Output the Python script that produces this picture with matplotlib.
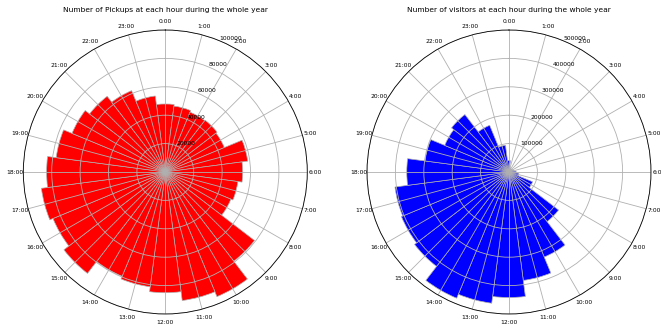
import numpy as np
import matplotlib
matplotlib.use('Agg')
import matplotlib.pyplot as plt

hours = list(range(24))
hour_labels = ['0:00', '1:00', '2:00', '3:00', '4:00', '5:00', '6:00', '7:00',
               '8:00', '9:00', '10:00', '11:00', '12:00', '13:00', '14:00', '15:00',
               '16:00', '17:00', '18:00', '19:00', '20:00', '21:00', '22:00', '23:00']

pickups = [47900, 46800, 45600, 46000, 45000, 58500, 54500, 51500,
           50000, 79200, 95000, 91300, 85000, 81500, 79500, 90000,
           85600, 88000, 83600, 77500, 71100, 67200, 62000, 54000]

visitors = [40000, 15000, 12000, 12000, 14000, 18000, 25000, 35000,
            90000, 220000, 324000, 385000, 442000, 466000, 481000, 419000,
            410000, 405000, 360000, 298000, 245000, 255000, 178000, 95000]

pickup_rticks = [20000, 40000, 60000, 80000, 100000]
visitor_rticks = [100000, 200000, 300000, 400000, 500000]

fig = plt.figure(figsize=(6.61, 3.30), dpi=100)


def polar_chart(rect, values, color, rmax, rticks, title):
    ax = fig.add_axes(rect, projection='polar')
    ax.set_theta_zero_location('N')
    ax.set_theta_direction(-1)
    theta = np.array(hours) * 2 * np.pi / 24
    ax.bar(theta, values, width=2 * np.pi / 24, color=color,
           edgecolor='#b0b0b0', linewidth=0.5)
    ax.set_xticks(theta)
    ax.set_xticklabels(hour_labels, fontsize=4.3)
    ax.set_ylim(0, rmax)
    ax.set_yticks(rticks)
    ax.set_yticklabels([str(t) for t in rticks], fontsize=4.3)
    ax.grid(True, color='#b0b0b0', linewidth=0.6)
    ax.spines['polar'].set_linewidth(0.6)
    ax.tick_params(axis='x', pad=-4.5)
    ax.set_title(title, fontsize=5.4, y=1.062, pad=0)
    return ax


w = 284 / 661
h = 284 / 330
polar_chart([(165.3 - 142) / 661, 16 / 330, w, h], pickups, 'red', 100000,
            pickup_rticks, 'Number of Pickups at each hour during the whole year')
polar_chart([(509 - 142) / 661, 16 / 330, w, h], visitors, 'blue', 500000,
            visitor_rticks, 'Number of visitors at each hour during the whole year')

fig.savefig('out.png', dpi=100)
